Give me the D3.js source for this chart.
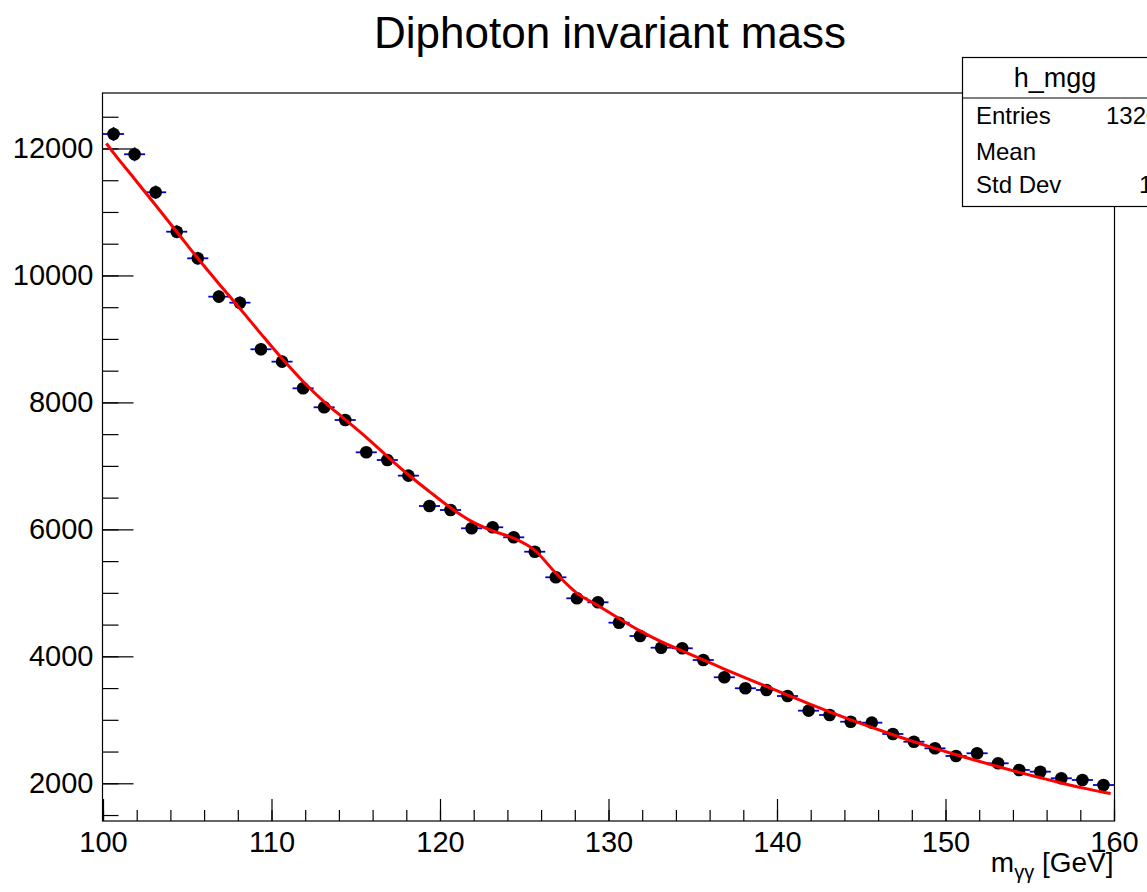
<!DOCTYPE html>
<html>
<head>
<meta charset="utf-8">
<script src="https://cdn.jsdelivr.net/npm/d3@7"></script>
<style>
  body { margin: 0; background: #fff; }
  svg { display: block; font-family: "Liberation Sans", Arial, sans-serif; }
</style>
</head>
<body>
<svg width="1147" height="892"></svg>
<script>
// histogram h_mgg : 48 bins of 1.25 GeV between 100 and 160
var binLow = 100, binWidth = 1.25;
var counts = [12228, 11909, 11310, 10689, 10270, 9666, 9571, 8837, 8642, 8222,
              7923, 7723, 7214, 7093, 6846, 6368, 6305, 6017, 6033, 5875,
              5648, 5245, 4914, 4851, 4530, 4320, 4136, 4127, 3942, 3670,
              3497, 3470, 3375, 3144, 3076, 2970, 2955, 2777, 2655, 2551,
              2430, 2473, 2315, 2210, 2183, 2079, 2052, 1973];

// fitted curve
var fitMass = [100.2, 100.625, 101.875, 103.125, 104.375, 105.625, 106.875, 108.125, 109.375, 110.625,
               111.875, 113.125, 114.375, 115.625, 116.875, 118.125, 119.375, 120.625, 121.875, 123.125,
               124.375, 125.625, 126.875, 128.125, 129.375, 130.625, 131.875, 133.125, 134.375, 135.625,
               136.875, 138.125, 139.375, 140.625, 141.875, 143.125, 144.375, 145.625, 146.875, 148.125,
               149.375, 150.625, 151.875, 153.125, 154.375, 155.625, 156.875, 158.125, 159.375, 159.8];
var fitValue = [12080, 11930, 11520, 11105, 10689, 10270, 9870, 9480, 9080, 8690,
                8330, 8010, 7730, 7450, 7150, 6860, 6595, 6340, 6125, 5975,
                5860, 5670, 5310, 4995, 4800, 4595, 4400, 4230, 4085, 3945,
                3800, 3660, 3525, 3390, 3255, 3125, 3000, 2880, 2765, 2655,
                2550, 2450, 2355, 2262, 2172, 2088, 2005, 1928, 1860, 1840];

var xTicks = [100, 110, 120, 130, 140, 150, 160];
var yTicks = [2000, 4000, 6000, 8000, 10000, 12000];
var statsLabels = ["Entries", "Mean", "Std Dev"];
var statsValues = ["1320000", "123.9", "16.12"];

var svg = d3.select("svg");

var frame = {left: 102.5, right: 1114.5, top: 93, bottom: 821};

var x = d3.scaleLinear().domain([100, 160]).range([frame.left + 0.5, frame.right - 0.5]);
var y = d3.scaleLinear().domain([1406, 12874]).range([frame.bottom, frame.top]);

svg.append("rect").attr("width", 1147).attr("height", 892).attr("fill", "#fff");

// title
svg.append("text")
  .attr("x", 610).attr("y", 48)
  .attr("text-anchor", "middle")
  .style("font-size", "44px")
  .text("Diphoton invariant mass");

// axes (ticks inside the frame, ROOT style)
var bottom = "translate(0," + frame.bottom + ")";
svg.append("g").attr("transform", bottom)
  .call(d3.axisBottom(x).tickValues(d3.range(100, 161, 2)).tickSize(-11).tickFormat(""));
svg.append("g").attr("transform", bottom)
  .call(d3.axisBottom(x).tickValues(xTicks).tickSize(-22).tickPadding(10).tickFormat(d3.format("d")));

var left = "translate(" + frame.left + ",0)";
svg.append("g").attr("transform", left)
  .call(d3.axisLeft(y).tickValues(d3.range(1500, 12874, 500)).tickSize(-16).tickFormat(""));
svg.append("g").attr("transform", left)
  .call(d3.axisLeft(y).tickValues(yTicks).tickSize(-31).tickPadding(9).tickFormat(d3.format("d")));

svg.selectAll(".domain").remove();
svg.selectAll(".tick line").attr("stroke", "#000").attr("stroke-width", 1.2);
svg.selectAll(".tick text").style("font-size", "29px").attr("fill", "#000")
  .style("font-family", "'Liberation Sans', Arial, sans-serif");

svg.append("rect")
  .attr("x", frame.left).attr("y", frame.top)
  .attr("width", frame.right - frame.left).attr("height", frame.bottom - frame.top)
  .attr("fill", "none").attr("stroke", "#000").attr("stroke-width", 1.2);

// x axis title
var xt = svg.append("text")
  .attr("x", frame.right - 1).attr("y", 872)
  .attr("text-anchor", "end")
  .style("font-size", "28px");
xt.append("tspan").text("m");
xt.append("tspan").attr("dy", 7).style("font-size", "20px").text("γγ");
xt.append("tspan").attr("dy", -7).text(" [GeV]");

// data
var bins = counts.map(function(c, i) {
  return {lo: binLow + i * binWidth, hi: binLow + (i + 1) * binWidth,
          mid: binLow + (i + 0.5) * binWidth, n: c};
});

var pts = svg.append("g");
pts.selectAll("line.h").data(bins).enter().append("line")
  .attr("x1", function(d) { return x(d.lo); })
  .attr("x2", function(d) { return x(d.hi); })
  .attr("y1", function(d) { return y(d.n); })
  .attr("y2", function(d) { return y(d.n); })
  .attr("stroke", "#0000d0").attr("stroke-width", 1.8);
pts.selectAll("line.v").data(bins).enter().append("line")
  .attr("x1", function(d) { return x(d.mid); })
  .attr("x2", function(d) { return x(d.mid); })
  .attr("y1", function(d) { return y(d.n - Math.sqrt(d.n)); })
  .attr("y2", function(d) { return y(d.n + Math.sqrt(d.n)); })
  .attr("stroke", "#0000d0").attr("stroke-width", 1.8);

// fit
var line = d3.line()
  .x(function(d) { return x(d[0]); })
  .y(function(d) { return y(d[1]); })
  .curve(d3.curveMonotoneX);
svg.append("path")
  .datum(d3.zip(fitMass, fitValue))
  .attr("d", line)
  .attr("fill", "none").attr("stroke", "#ff0000").attr("stroke-width", 3);

pts.selectAll("circle").data(bins).enter().append("circle")
  .attr("cx", function(d) { return x(d.mid); })
  .attr("cy", function(d) { return y(d.n); })
  .attr("r", 6.3)
  .attr("fill", "#000");

// stats box
var sb = svg.append("g");
sb.append("rect")
  .attr("x", 962.5).attr("y", 57.5).attr("width", 260).attr("height", 149)
  .attr("fill", "#fff").attr("stroke", "#000").attr("stroke-width", 1.2);
sb.append("line")
  .attr("x1", 962.5).attr("x2", 1147).attr("y1", 98).attr("y2", 98)
  .attr("stroke", "#000").attr("stroke-width", 1.2);
sb.append("text").attr("x", 1055).attr("y", 87).attr("text-anchor", "middle")
  .style("font-size", "27px").text("h_mgg");
var rowY = [124, 160, 193];
var valX = [1106, 1150, 1139];
statsLabels.forEach(function(s, i) {
  sb.append("text").attr("x", 976).attr("y", rowY[i]).style("font-size", "24px").text(s);
  sb.append("text").attr("x", valX[i]).attr("y", rowY[i]).style("font-size", "24px").text(statsValues[i]);
});
</script>
</body>
</html>
